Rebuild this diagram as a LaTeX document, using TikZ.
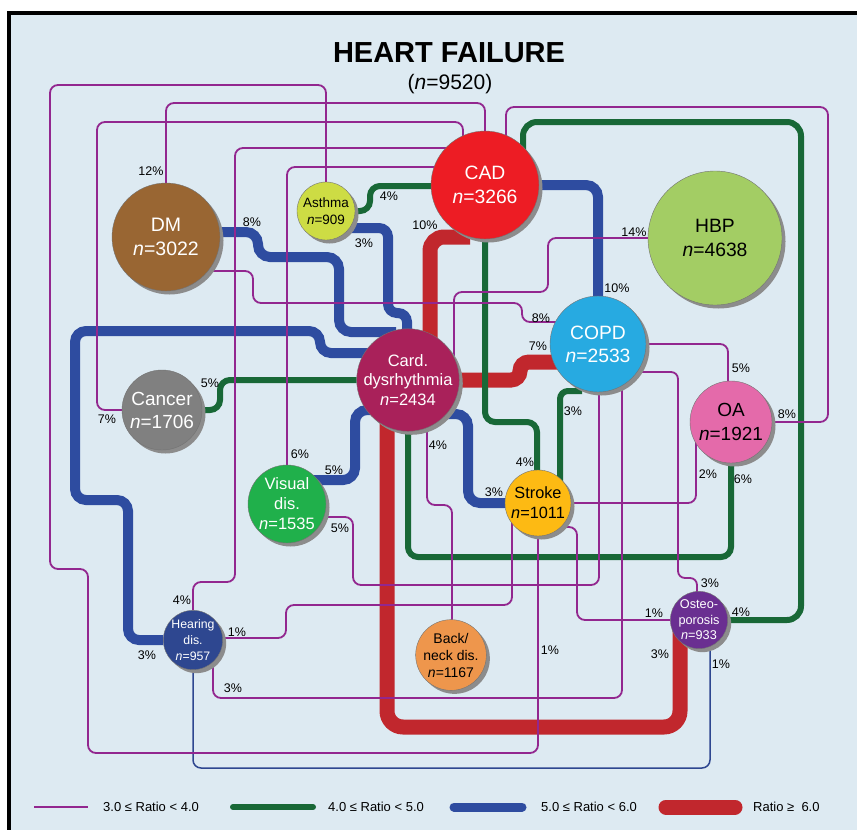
\documentclass[tikz,border=0pt]{standalone}
\usepackage{fontspec}
\setmainfont{Liberation Sans}
\usetikzlibrary{shadows,calc}
\definecolor{bgblue}{RGB}{221,234,242}
\definecolor{lnpurple}{RGB}{146,39,143}
\definecolor{lngreen}{RGB}{24,104,55}
\definecolor{lnblue}{RGB}{46,76,160}
\definecolor{lnred}{RGB}{193,39,45}
\definecolor{lnnavy}{RGB}{46,71,144}
\definecolor{cCAD}{RGB}{237,28,36}
\definecolor{cHBP}{RGB}{163,205,100}
\definecolor{cDM}{RGB}{153,102,51}
\definecolor{cAsthma}{RGB}{205,220,68}
\definecolor{cCD}{RGB}{169,33,90}
\definecolor{cCOPD}{RGB}{39,170,225}
\definecolor{cOA}{RGB}{228,106,170}
\definecolor{cCancer}{RGB}{128,128,128}
\definecolor{cVisual}{RGB}{32,176,75}
\definecolor{cStroke}{RGB}{253,186,19}
\definecolor{cHearing}{RGB}{46,71,144}
\definecolor{cBack}{RGB}{238,150,76}
\definecolor{cOsteo}{RGB}{106,47,145}
\pgfdeclarelayer{bg}
\pgfdeclarelayer{lines}
\pgfsetlayers{bg,lines,main}
\tikzset{
  dis/.style={circle, inner sep=0pt, align=center, draw=black!55, line width=0.4pt,
    drop shadow={shadow xshift=3.5pt, shadow yshift=-3.5pt, fill=black!45, opacity=1}},
  pl/.style={draw=lnpurple, line width=1.8pt, rounded corners=8pt},
  nl/.style={draw=lnnavy, line width=1.5pt, rounded corners=8pt},
  gl/.style={draw=lngreen, line width=6pt, rounded corners=10pt},
  bl/.style={draw=lnblue, line width=10pt, rounded corners=12pt},
  rl/.style={draw=lnred, line width=15pt, rounded corners=14pt},
  pct/.style={font=\fontsize{12.5}{14}\selectfont, inner sep=0pt},
  legtext/.style={font=\fontsize{13}{15}\selectfont, anchor=west, inner sep=0pt}
}
\begin{document}
\begin{tikzpicture}[x=1pt,y=-1pt]
\useasboundingbox (0,0) rectangle (857,830);
\begin{pgfonlayer}{bg}
\fill[white] (0,0) rectangle (857,830);
\fill[bgblue] (9,13) rectangle (857,830);
\draw[line width=4pt] (9,830) -- (9,13) -- (857,13);
\end{pgfonlayer}

% title
\node[font=\bfseries\fontsize{29}{34}\selectfont, anchor=base] (title) at (449,62) {HEART FAILURE};
\node[font=\fontsize{21}{25}\selectfont, anchor=base] (total) at (450,89) {(\textit{n}=9520)};

% disease nodes
\node[dis, minimum size=108pt, fill=cCAD, text=white, font=\fontsize{19.3}{24.5}\selectfont] (cad) at (485,185) {CAD\\\textit{n}=3266};
\node[dis, minimum size=134pt, fill=cHBP, text=black, font=\fontsize{19.3}{23.5}\selectfont] (hbp) at (715,238) {HBP\\\textit{n}=4638};
\node[dis, minimum size=108pt, fill=cDM, text=white, font=\fontsize{19.5}{24.5}\selectfont] (dm) at (166,237) {DM\\\textit{n}=3022};
\node[dis, minimum size=58pt, fill=cAsthma, text=black, font=\fontsize{13.5}{17}\selectfont] (asthma) at (326,211) {Asthma\\\textit{n}=909};
\node[dis, minimum size=98pt, fill=cCD, text=white, font=\fontsize{16.5}{19.5}\selectfont] (cd) at (408,380) {Card.\\dysrhythmia\\\textit{n}=2434};
\node[dis, minimum size=96pt, fill=cCOPD, text=white, font=\fontsize{19.3}{23}\selectfont] (copd) at (598,344) {COPD\\\textit{n}=2533};
\node[dis, minimum size=82pt, fill=cOA, text=black, font=\fontsize{19}{24}\selectfont] (oa) at (731,422) {OA\\\textit{n}=1921};
\node[dis, minimum size=80pt, fill=cCancer, text=white, font=\fontsize{19}{23}\selectfont] (cancer) at (162,410) {Cancer\\\textit{n}=1706};
\node[dis, minimum size=78pt, fill=cVisual, text=white, font=\fontsize{16.5}{20}\selectfont] (visual) at (287,504) {Visual\\dis.\\\textit{n}=1535};
\node[dis, minimum size=66pt, fill=cStroke, text=black, font=\fontsize{16.3}{20}\selectfont] (stroke) at (538,503) {Stroke\\\textit{n}=1011};
\node[dis, minimum size=56pt, fill=cHearing, text=white, font=\fontsize{12.3}{16}\selectfont] (hearing) at (193,640) {Hearing\\dis.\\\textit{n}=957};
\node[dis, minimum size=66pt, fill=cBack, text=black, font=\fontsize{14}{17}\selectfont] (back) at (451,655) {Back/\\neck dis.\\\textit{n}=1167};
\node[dis, minimum size=56pt, fill=cOsteo, text=white, font=\fontsize{12.7}{15.5}\selectfont] (osteo) at (699,620) {Osteo-\\porosis\\\textit{n}=933};

\begin{pgfonlayer}{lines}
% red
\draw[rl] ($(cad)+(-15,52)$) -| ($(cd)+(22,0)$);
\draw[rl, rounded corners=9pt] (cd) -- (520,380) -- (520,362) -- ($(copd)+(0,18)$);
\draw[rl, rounded corners=16pt] ($(cd)+(-21,0)$) |- (680,727) -- ($(osteo)+(-19,0)$);
% blue
\draw[bl] ($(dm)+(0,-5)$) -- (258,232) -- (258,257) -- (339,257) -- (339,332) -- ($(cd)+(-12,-48)$);
\draw[bl, rounded corners=9pt] ($(asthma)+(0,17)$) -- (388,228) -- (388,313) -- (407,313) -- ($(cd)+(-1,0)$);
\draw[bl] (cad) -| (copd);
\draw[bl, rounded corners=11pt] ($(cd)+(0,-27)$) -- (320,353) -- (320,331) -- (75,331) -- (75,500) -- (128,500) -- (128,640) -- (hearing);
\draw[bl] ($(cd)+(0,30)$) -- (355,410) -- (355,480) -- ($(visual)+(0,-24)$);
\draw[bl] ($(cd)+(0,34)$) -| (468,503) -- (stroke);
% navy thin
\draw[nl] (hearing) |- (710,768) -- ($(osteo)+(11,0)$);
% green
\draw[gl] (asthma) -- (370,211) -- (370,186) -- ($(cad)+(0,1)$);
\draw[gl] (cancer) -- (220,410) -- (220,380) -- (cd);
\draw[gl] (cad) |- (537,422) -- ($(stroke)+(-1,0)$);
\draw[gl, rounded corners=14pt] ($(cad)+(38,0)$) |- (801,122) |- (osteo);
\draw[gl, rounded corners=8pt] ($(copd)+(-16,47)$) -- (560,391) -- ($(stroke)+(22,0)$);
\draw[gl] (cd) |- (731,557) -- (oa);
% purple
\draw[pl] (asthma) -- (326,85) -- (50,85) -- (50,569) -- (88,569) -- (88,753) -- (538,753) -- (stroke);
\draw[pl] (dm) |- (485,103) -- (cad);
\draw[pl] (cancer) -| (97,122) -| ($(cad)+(-22,0)$);
\draw[pl] (hearing) -- (193,582) -- (235,582) -- (235,148) -- ($(cad)+(0,-37)$);
\draw[pl] (visual) |- ($(cad)+(0,-18)$);
\draw[pl] (oa) -| (828,107) -| ($(cad)+(21,0)$);
\draw[pl] ($(dm)+(0,34)$) -- (253,271) -- (253,303) -- (522,303) -- (522,322) -- ($(copd)+(0,-22)$);
\draw[pl] (hbp) -| (548,292) -| ($(cd)+(46,0)$);
\draw[pl] ($(cd)+(19,0)$) -- (427,505) -- (452,505) -- ($(back)+(1,0)$);
\draw[pl] ($(visual)+(0,13)$) -| (353,585) -| ($(copd)+(1,0)$);
\draw[pl] ($(hearing)+(20,0)$) |- (622,698) -- ($(copd)+(24,0)$);
\draw[pl] (stroke) -| ($(oa)+(-35,0)$);
\draw[pl] (copd) -| ($(oa)+(-3,0)$);
\draw[pl, rounded corners=7pt] ($(copd)+(0,28)$) -- (678,372) -- (678,578) -- (697,578) -- ($(osteo)+(-2,0)$);
\draw[pl] ($(stroke)+(0,24)$) -| (577,620) -- (osteo);
\draw[pl] ($(hearing)+(0,-2)$) -- (286,638) -- (286,605) -| ($(stroke)+(-26,0)$);
\end{pgfonlayer}

% percentage labels
\node[pct] (l1) at (151,171) {12\%};
\node[pct] (l2) at (252,222) {8\%};
\node[pct] (l3) at (389,196) {4\%};
\node[pct] (l4) at (364,243) {3\%};
\node[pct] (l5) at (425,225) {10\%};
\node[pct] (l6) at (617,288) {10\%};
\node[pct] (l7) at (634,232) {14\%};
\node[pct] (l8) at (541,318) {8\%};
\node[pct] (l9) at (538,346) {7\%};
\node[pct] (l10) at (210,383) {5\%};
\node[pct] (l11) at (107,419) {7\%};
\node[pct] (l12) at (300,454) {6\%};
\node[pct] (l13) at (334,470) {5\%};
\node[pct] (l14) at (340,528) {5\%};
\node[pct] (l15) at (438,445) {4\%};
\node[pct] (l16) at (494,492) {3\%};
\node[pct] (l17) at (525,462) {4\%};
\node[pct] (l18) at (573,411) {3\%};
\node[pct] (l19) at (741,368) {5\%};
\node[pct] (l20) at (787,414) {8\%};
\node[pct] (l21) at (708,474) {2\%};
\node[pct] (l22) at (743,479) {6\%};
\node[pct] (l23) at (710,583) {3\%};
\node[pct] (l24) at (654,613) {1\%};
\node[pct] (l25) at (741,612) {4\%};
\node[pct] (l26) at (660,654) {3\%};
\node[pct] (l27) at (721,664) {1\%};
\node[pct] (l28) at (550,650) {1\%};
\node[pct] (l29) at (182,600) {4\%};
\node[pct] (l30) at (237,632) {1\%};
\node[pct] (l31) at (147,655) {3\%};
\node[pct] (l32) at (233,688) {3\%};

% legend
\coordinate (lpa) at (34,807); \coordinate (lpb) at (88,807);
\coordinate (lga) at (233,807); \coordinate (lgb) at (313,807);
\coordinate (lba) at (454,807); \coordinate (lbb) at (522,807);
\coordinate (lra) at (666,807); \coordinate (lrb) at (735,807);
\draw[draw=lnpurple, line width=1.8pt] (lpa) -- (lpb);
\draw[draw=lngreen, line width=6pt, line cap=round] (lga) -- (lgb);
\draw[draw=lnblue, line width=9pt, line cap=round] (lba) -- (lbb);
\draw[draw=lnred, line width=15pt, line cap=round] (lra) -- (lrb);
\node[legtext] (lt1) at (103,807) {3.0 ≤ Ratio < 4.0};
\node[legtext] (lt2) at (328,807) {4.0 ≤ Ratio < 5.0};
\node[legtext] (lt3) at (541,807) {5.0 ≤ Ratio < 6.0};
\node[legtext] (lt4) at (753,807) {Ratio ≥\ \ 6.0};
\end{tikzpicture}
\end{document}
